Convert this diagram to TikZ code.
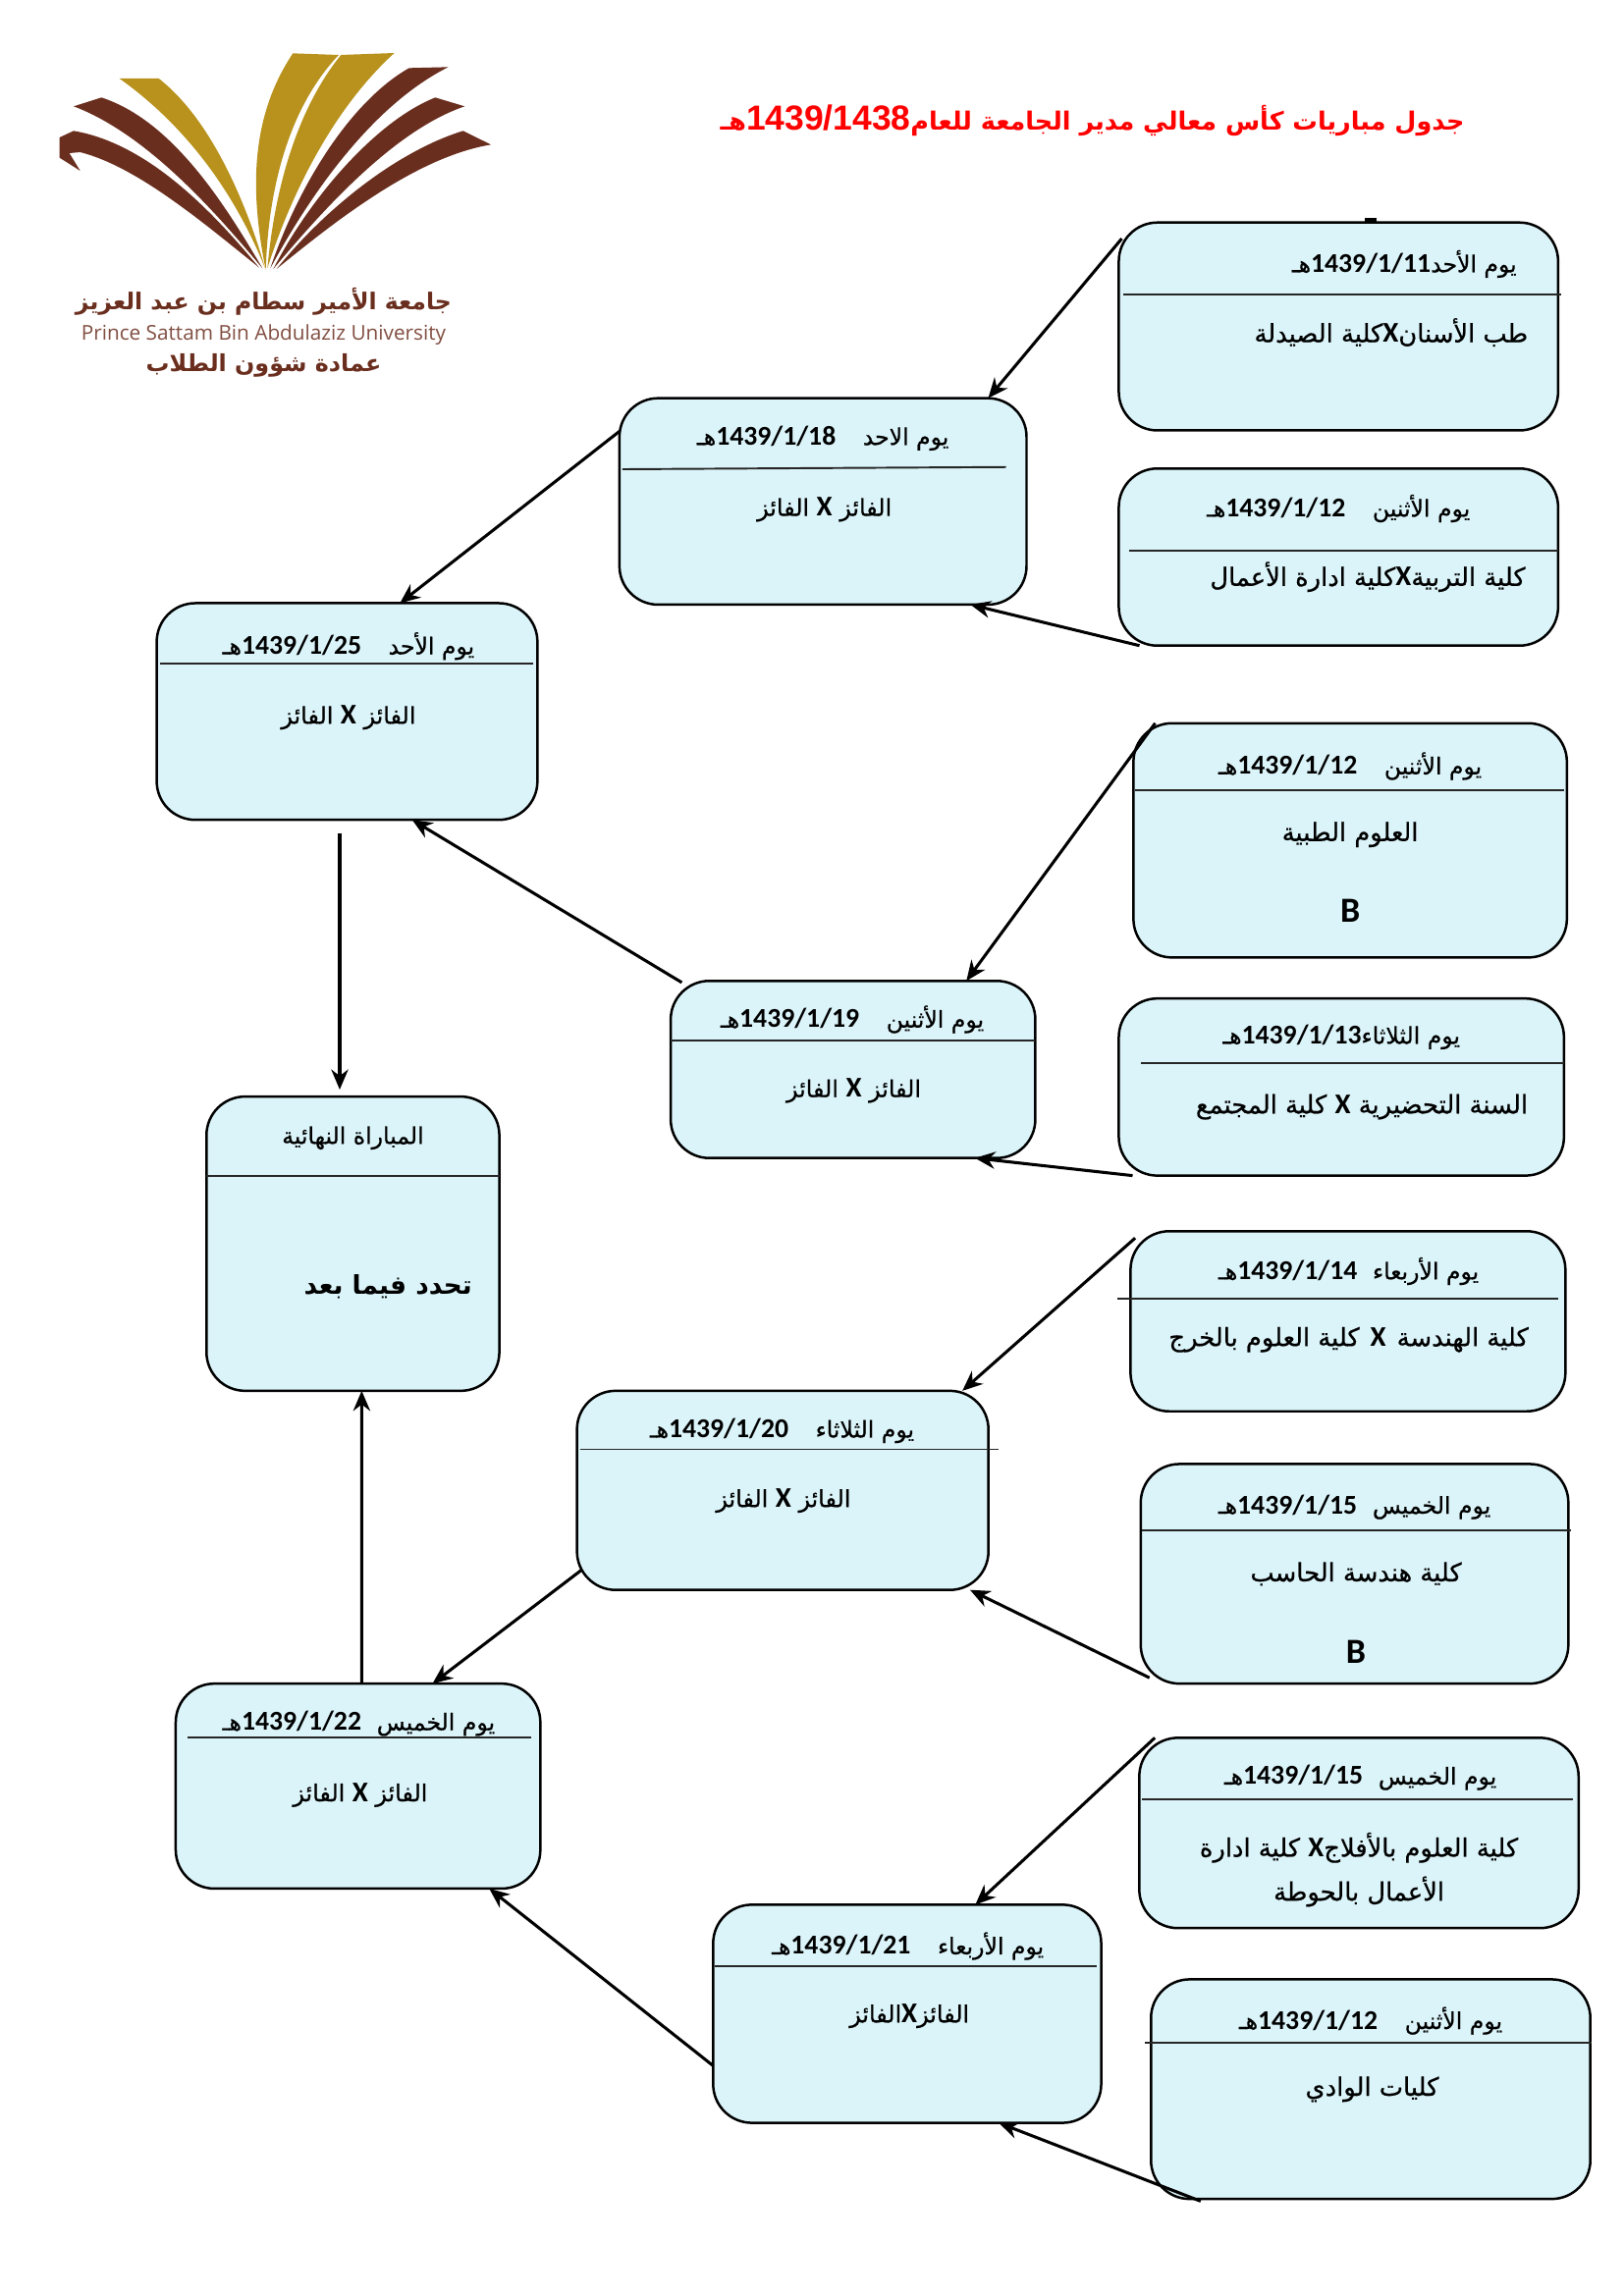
\documentclass[tikz,border=0pt]{standalone}
\usepackage{fontspec}
\usepackage{xcolor}
\usetikzlibrary{arrows.meta,calc}
\TeXXeTstate=1
\newfontfamily\arabicfont[Script=Arabic,UprightFeatures={FakeBold=0.6}]{DejaVu Sans}
\newfontfamily\digitfont{Carlito}
\newfontfamily\titlefont{Liberation Sans}
\newfontfamily\logofont{Open Sans}
\definecolor{boxfill}{HTML}{DBF4F9}
\definecolor{logobrown}{HTML}{6A2E1E}
\definecolor{logogold}{HTML}{B8921C}
\def\pxu{0.18936mm}
\newcommand{\arb}[1]{{\arabicfont\beginR #1\endR}}
\newcommand{\dte}[1]{\beginL{\digitfont\bfseries\fontsize{10}{12}\selectfont #1}\endL}
\newcommand{\vsx}{\beginL{\digitfont\bfseries\fontsize{10.5}{12}\selectfont X}\endL}
\newcommand{\matchhead}[3][0pt]{\arb{#2\hspace{#1}\dte{#3}هـ}}
\tikzset{
  matchbox/.style 2 args={draw=black, fill=boxfill, line width=0.9pt, rounded corners=5mm,
    outer sep=0pt, minimum width=#1*\pxu, minimum height=#2*\pxu},
  headtext/.style={font=\fontsize{8.5}{10}\selectfont, inner sep=0pt, yshift=-0.25mm},
  bodytext/.style={font=\fontsize{9.3}{11}\selectfont, inner sep=0pt, yshift=-0.2mm},
  wintext/.style={font=\fontsize{8.6}{10}\selectfont, inner sep=0pt, yshift=-0.2mm},
  grouptext/.style={font=\digitfont\bfseries\fontsize{13}{15}\selectfont, inner sep=0pt},
  divline/.style={line width=0.7pt, black!85},
  link/.style={line width=1.1pt, -{Stealth[length=2.6mm,width=2.2mm]}},
  blade/.style={fill=#1, draw=none}
}
\begin{document}
\begin{tikzpicture}[x=\pxu, y=-\pxu]
\useasboundingbox (0,0) rectangle (1109,1568.3);
% logo: the fan of blades, written in the coordinates of its own crop
\begin{scope}[shift={(26.82,20.11)}, xscale=0.2235, yscale=0.2235]
\fill[blade=logogold] (245,150) -- (365,150) .. controls (520,270) and (630,520) .. (690,730) .. controls (610,530) and (470,310) .. cycle;
\fill[blade=logogold] (775,73) -- (915,78) .. controls (770,230) and (700,470) .. (692,735) .. controls (640,480) and (650,260) .. cycle;
\fill[blade=logogold] (922,78) -- (1085,72) .. controls (900,240) and (770,500) .. (697,730) .. controls (720,480) and (790,240) .. cycle;
\fill[blade=logobrown] (105,235) -- (190,208) .. controls (410,280) and (570,540) .. (682,730) .. controls (540,560) and (330,320) .. cycle;
\fill[blade=logobrown] (62,330) -- (105,310) .. controls (340,350) and (540,570) .. (672,728) .. controls (500,590) and (300,420) .. (125,375) -- (92,378) -- (125,432) -- (62,392) -- cycle;
\fill[blade=logobrown] (1130,118) -- (1250,115) .. controls (1020,230) and (830,500) .. (706,730) .. controls (790,480) and (950,220) .. cycle;
\fill[blade=logobrown] (1210,208) -- (1300,235) .. controls (1080,310) and (860,560) .. (715,732) .. controls (830,510) and (1030,280) .. cycle;
\fill[blade=logobrown] (1295,310) -- (1380,352) .. controls (1150,390) and (900,590) .. (725,732) .. controls (880,540) and (1100,370) .. cycle;
\end{scope}
\node[inner sep=0pt, text=logobrown, font=\fontsize{8.5}{11}\selectfont\bfseries] (logoa) at (180,206) {\arb{جامعة الأمير سطام بن عبد العزيز}};
\node[inner sep=0pt, text=logobrown!85, font=\logofont\fontsize{7.5}{9}\selectfont] (logob) at (180,229) {Prince Sattam Bin Abdulaziz University};
\node[inner sep=0pt, text=logobrown, font=\fontsize{8.6}{11}\selectfont\bfseries] (logoc) at (180,250) {\arb{عمادة شؤون الطلاب}};
% title
\node[inner sep=0pt, text=red, font=\fontsize{9.2}{12}\selectfont\bfseries] (title) at (746,82) {\arb{جدول مباريات كأس معالي مدير الجامعة للعام\beginL{\titlefont\bfseries\fontsize{12.8}{14}\selectfont 1439/1438}\endL هـ}};
% boxes
\node[matchbox={300}{142}] (aone) at (914,223) {};
\node[matchbox={300}{121}] (atwo) at (914,380.5) {};
\node[matchbox={278}{141}] (semia) at (562,342.5) {};
\node[matchbox={260}{148}] (upper) at (237,486) {};
\node[matchbox={296}{160}] (dbox) at (922,574) {};
\node[matchbox={304}{121}] (ebox) at (916,742.5) {};
\node[matchbox={249}{121}] (semib) at (582.5,730.5) {};
\node[matchbox={200}{201}] (final) at (241,849.5) {};
\node[matchbox={297}{123}] (hbox) at (920.5,902.5) {};
\node[matchbox={292}{150}] (ibox) at (925,1075) {};
\node[matchbox={281}{136}] (semic) at (534.5,1018) {};
\node[matchbox={249}{140}] (lower) at (244.5,1220) {};
\node[matchbox={300}{130}] (lbox) at (928,1252) {};
\node[matchbox={265}{149}] (semid) at (619.5,1375.5) {};
\node[matchbox={300}{150}] (nbox) at (936,1427) {};
% dividers stick out of the boxes here and there
\draw[divline] (767,201) -- (1066,201);
\draw[divline] (771,376) -- (1064,376);
\draw[divline] (425,320.5) -- (687,319);
\draw[divline] (109,453) -- (364,453);
\draw[divline] (775,540) -- (1068,540);
\draw[divline] (779,726) -- (1068,726);
\draw[divline] (458,711) -- (707,711);
\draw[divline] (141,803) -- (341,803);
\draw[divline] (763,887) -- (1064,887);
\draw[divline] (780,1045) -- (1073,1045);
\draw[divline] (396,990) -- (682,990);
\draw[divline] (128,1187) -- (363,1187);
\draw[divline] (780,1229) -- (1074,1229);
\draw[divline] (488,1343) -- (749,1343);
\draw[divline] (782,1395) -- (1087,1395);
\draw[line width=1.6pt] (932,150) -- (940,150);
% texts of the boxes
\node[headtext] (aoneh) at (959,179) {\matchhead{يوم الأحد}{1439/1/11}};
\node[bodytext] (aoneb) at (950,226) {\arb{طب الأسنان\vsx كلية الصيدلة}};
\node[headtext] (atwoh) at (914,346) {\matchhead[3.5mm]{يوم الأثنين}{1439/1/12}};
\node[bodytext] (atwob) at (934,393) {\arb{كلية التربية\vsx كلية ادارة الأعمال}};
\node[headtext] (semiah) at (562,298) {\matchhead[3.5mm]{يوم الاحد}{1439/1/18}};
\node[wintext] (semiab) at (563,347) {\arb{الفائز \vsx{} الفائز}};
\node[headtext] (upperh) at (238,440) {\matchhead[3.5mm]{يوم الأحد}{1439/1/25}};
\node[wintext] (upperb) at (238,489) {\arb{الفائز \vsx{} الفائز}};
\node[headtext] (dboxh) at (922,522) {\matchhead[3.5mm]{يوم الأثنين}{1439/1/12}};
\node[bodytext] (dboxb) at (922,569) {\arb{العلوم الطبية}};
\node[grouptext] (dboxg) at (922,622) {B};
\node[headtext] (eboxh) at (916,707) {\matchhead{يوم الثلاثاء}{1439/1/13}};
\node[bodytext] (eboxb) at (930,755) {\arb{السنة التحضيرية \vsx{} كلية المجتمع}};
\node[headtext] (semibh) at (582,695) {\matchhead[3.5mm]{يوم الأثنين}{1439/1/19}};
\node[wintext] (semibb) at (583,744) {\arb{الفائز \vsx{} الفائز}};
\node[headtext] (finalh) at (241,776) {\arb{المباراة النهائية}};
\node[bodytext, font=\fontsize{9.5}{11}\selectfont\bfseries] (finalb) at (265,878) {\arb{تحدد فيما بعد}};
\node[headtext] (hboxh) at (921,867) {\matchhead[2mm]{يوم الأربعاء}{1439/1/14}};
\node[bodytext] (hboxb) at (921,914) {\arb{كلية الهندسة\hspace{1.4mm}\vsx\hspace{1.4mm}كلية العلوم بالخرج}};
\node[headtext] (iboxh) at (925,1028) {\matchhead[2mm]{يوم الخميس}{1439/1/15}};
\node[bodytext] (iboxb) at (926,1074) {\arb{كلية هندسة الحاسب}};
\node[grouptext] (iboxg) at (926,1128) {B};
\node[headtext] (semich) at (534,976) {\matchhead[3.5mm]{يوم الثلاثاء}{1439/1/20}};
\node[wintext] (semicb) at (535,1024) {\arb{الفائز \vsx{} الفائز}};
\node[headtext] (lowerh) at (245,1176) {\matchhead[2mm]{يوم الخميس}{1439/1/22}};
\node[wintext] (lowerb) at (246,1225) {\arb{الفائز \vsx{} الفائز}};
\node[headtext] (lboxh) at (929,1213) {\matchhead[2mm]{يوم الخميس}{1439/1/15}};
\node[bodytext] (lboxb) at (928,1261) {\arb{كلية العلوم بالأفلاج\vsx{} كلية ادارة}};
\node[bodytext] (lboxc) at (928,1291) {\arb{الأعمال بالحوطة}};
\node[headtext] (semidh) at (620,1328) {\matchhead[3.5mm]{يوم الأربعاء}{1439/1/21}};
\node[wintext] (semidb) at (621,1376) {\arb{الفائز\vsx الفائز}};
\node[headtext] (nboxh) at (936,1379) {\matchhead[3.5mm]{يوم الأثنين}{1439/1/12}};
\node[bodytext] (nboxb) at (937,1426) {\arb{كليات الوادي}};
% connectors, the anchors are angles on the box borders
\draw[link, shorten <=-0.6mm] (aone.159) -- (semia.32);
\draw[link] (atwo.204.5) -- (semia.-35);
\draw[link] (dbox.149.4) -- (semib.38);
\draw[link] (ebox.203.4) -- (semib.-36);
\draw[link, shorten <=-0.8mm] (hbox.160) -- (semic.29);
\draw[link, shorten <=-1.25mm] (ibox.205) -- (semic.-28);
\draw[link] (lbox.155.5) -- (semid.58);
\draw[link, shorten <=-0.8mm] (nbox.212) -- (semid.-50);
\draw[link] (semia.161) -- (upper.64);
\draw[link, shorten <=-0.4mm] (semib.153) -- (upper.-59);
\draw[link, shorten <=-0.7mm] (semic.202) -- (lower.54);
\draw[link] (semid.195) -- (lower.-38);
\draw[link, shorten <=1.7mm, shorten >=0.9mm] ([xshift=-5*\pxu]upper.south) -- ([xshift=-9*\pxu]final.north);
\draw[link] ([xshift=2.5*\pxu]lower.north) -- ([xshift=6*\pxu]final.south);
\end{tikzpicture}
\end{document}
